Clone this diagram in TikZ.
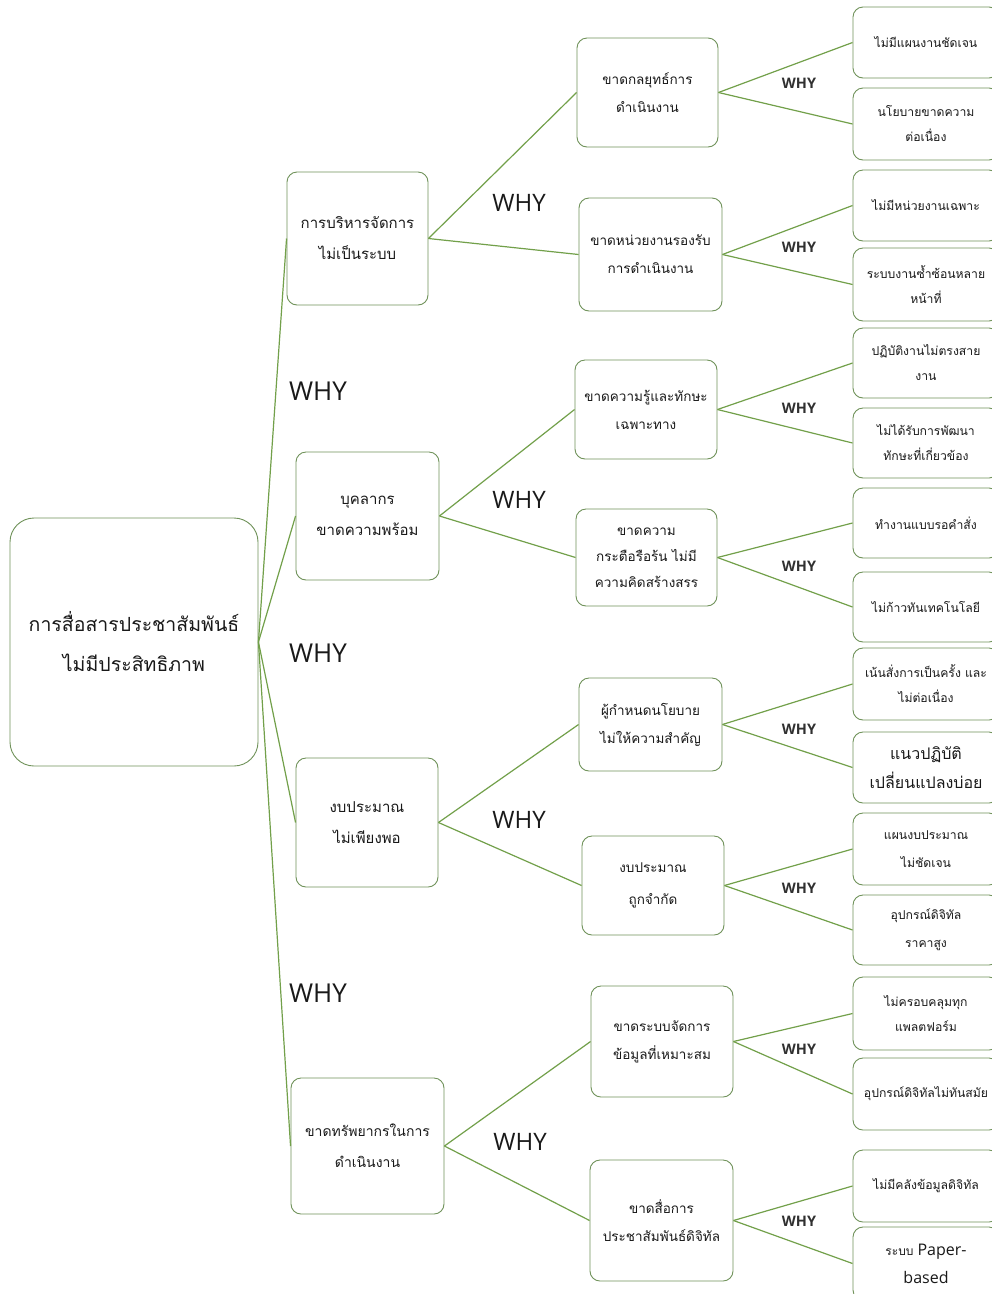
\documentclass[tikz,border=0pt]{standalone}
\usepackage{fontspec}
\setmainfont[Script=Thai]{Loma}
\newfontfamily\whyfont{Open Sans}
\definecolor{linegreen}{RGB}{114,160,74}
\definecolor{boxgreen}{RGB}{112,146,90}
\definecolor{txt}{RGB}{25,25,25}
\begin{document}
\begin{tikzpicture}[x=1pt,y=-1pt,
  conn/.style={draw=linegreen, line width=1.2pt},
  boxbase/.style={draw=boxgreen, line width=0.9pt, rounded corners=10pt, fill=white, align=center, inner sep=1pt, text=txt},
  rootbox/.style={boxbase, rounded corners=24pt, minimum width=248, minimum height=248, font=\fontsize{19.5}{40}\selectfont},
  lvlone/.style={boxbase, font=\fontsize{15}{31}\selectfont},
  lvltwo/.style={boxbase, minimum width=142, font=\fontsize{13.5}{28}\selectfont},
  leaf/.style={boxbase, minimum width=146, font=\fontsize{12.2}{25}\selectfont},
  whybig/.style={font=\whyfont\fontsize{26}{26}\selectfont, text=txt, inner sep=0pt},
  whymid/.style={font=\whyfont\fontsize{24}{24}\selectfont, text=txt, inner sep=0pt},
  whysmall/.style={font=\whyfont\bfseries\fontsize{14.5}{15}\selectfont, text=txt!90, inner sep=0pt}
]
\useasboundingbox (0,0) rectangle (992,1294);
\fill[white] (0,0) rectangle (992,1294);

% root
\node[rootbox] (root) at (134,642) {การสื่อสารประชาสัมพันธ์\\ไม่มีประสิทธิภาพ};

% level one
\node[lvlone, minimum width=141, minimum height=133] (p1) at (357.5,238.5) {การบริหารจัดการ\\ไม่เป็นระบบ};
\node[lvlone, minimum width=143, minimum height=128] (p2) at (367.5,516) {บุคลากร\\ขาดความพร้อม};
\node[lvlone, minimum width=142, minimum height=129] (p3) at (367,822.5) {งบประมาณ\\ไม่เพียงพอ};
\node[lvlone, minimum width=153, minimum height=136, font=\fontsize{14}{31}\selectfont] (p4) at (367.5,1146) {ขาดทรัพยากรในการ\\ดำเนินงาน};

% level two
\node[lvltwo, minimum width=141, minimum height=109] (a1) at (647.5,92.5) {ขาดกลยุทธ์การ\\ดำเนินงาน};
\node[lvltwo, minimum width=143, minimum height=113] (a2) at (650.5,254.5) {ขาดหน่วยงานรองรับ\\การดำเนินงาน};
\node[lvltwo, minimum width=142, minimum height=99] (b1) at (646,409.5) {ขาดความรู้และทักษะ\\เฉพาะทาง};
\node[lvltwo, minimum width=141, minimum height=97, font=\fontsize{13.5}{26}\selectfont] (b2) at (646.5,557.5) {ขาดความ\\กระตือรือร้น ไม่มี\\ความคิดสร้างสรร};
\node[lvltwo, minimum width=143, minimum height=93] (c1) at (650.5,724.5) {ผู้กำหนดนโยบาย\\ไม่ให้ความสำคัญ};
\node[lvltwo, minimum width=142, minimum height=99, font=\fontsize{13.5}{32}\selectfont] (c2) at (653,885.5) {งบประมาณ\\ถูกจำกัด};
\node[lvltwo, minimum width=142, minimum height=111] (d1) at (662,1041.5) {ขาดระบบจัดการ\\ข้อมูลที่เหมาะสม};
\node[lvltwo, minimum width=143, minimum height=121] (d2) at (661.5,1220.5) {\makebox[138pt][c]{ขาดสื่อการ}\\\makebox[138pt][c]{ประชาสัมพันธ์ดิจิทัล}};

% leaves
\node[leaf, minimum height=71] (l1) at (926,42.5) {ไม่มีแผนงานชัดเจน};
\node[leaf, minimum height=72] (l2) at (926,124) {นโยบายขาดความ\\ต่อเนื่อง};
\node[leaf, minimum height=71] (l3) at (926,205.5) {ไม่มีหน่วยงานเฉพาะ};
\node[leaf, minimum height=73] (l4) at (926,284.5) {\makebox[142pt][c]{ระบบงานซ้ำซ้อนหลาย}\\หน้าที่};
\node[leaf, minimum height=70] (l5) at (926,363) {ปฏิบัติงานไม่ตรงสาย\\งาน};
\node[leaf, minimum height=70] (l6) at (926,443) {ไม่ได้รับการพัฒนา\\ทักษะที่เกี่ยวข้อง};
\node[leaf, minimum height=70] (l7) at (926,523) {ทำงานแบบรอคำสั่ง};
\node[leaf, minimum height=70] (l8) at (926,607) {ไม่ก้าวทันเทคโนโลยี};
\node[leaf, minimum height=72] (l9) at (926,684) {\makebox[142pt][c]{เน้นสั่งการเป็นครั้ง และ}\\ไม่ต่อเนื่อง};
\node[leaf, minimum height=71, font=\fontsize{16}{29}\selectfont] (l10) at (926,767.5) {แนวปฏิบัติ\\\makebox[142pt][c]{เปลี่ยนแปลงบ่อย}};
\node[leaf, minimum height=72, font=\fontsize{12.2}{28}\selectfont] (l11) at (926,849) {แผนงบประมาณ\\ไม่ชัดเจน};
\node[leaf, minimum height=70, font=\fontsize{12.2}{28}\selectfont] (l12) at (926,930) {อุปกรณ์ดิจิทัล\\ราคาสูง};
\node[leaf, minimum height=73] (l13) at (926,1013.5) {ไม่ครอบคลุมทุก\\แพลตฟอร์ม};
\node[leaf, minimum height=72] (l14) at (926,1094) {\makebox[142pt][c]{อุปกรณ์ดิจิทัลไม่ทันสมัย}};
\node[leaf, minimum height=72] (l15) at (926,1186) {ไม่มีคลังข้อมูลดิจิทัล};
\node[leaf, minimum height=73, font=\fontsize{12}{28}\selectfont] (l16) at (926,1263.5) {ระบบ {\whyfont\fontsize{16}{28}\selectfont Paper-}\\{\whyfont\fontsize{16}{28}\selectfont based}};

% connectors root -> level one
\foreach \n in {p1,p2,p3,p4} \draw[conn] (root.east) -- (\n.west);
% level one -> level two
\draw[conn] (p1.east) -- (a1.west);
\draw[conn] (p1.east) -- (a2.west);
\draw[conn] (p2.east) -- (b1.west);
\draw[conn] (p2.east) -- (b2.west);
\draw[conn] (p3.east) -- (c1.west);
\draw[conn] (p3.east) -- (c2.west);
\draw[conn] (p4.east) -- (d1.west);
\draw[conn] (p4.east) -- (d2.west);
% level two -> leaves
\draw[conn] (a1.east) -- (l1.west);
\draw[conn] (a1.east) -- (l2.west);
\draw[conn] (a2.east) -- (l3.west);
\draw[conn] (a2.east) -- (l4.west);
\draw[conn] (b1.east) -- (l5.west);
\draw[conn] (b1.east) -- (l6.west);
\draw[conn] (b2.east) -- (l7.west);
\draw[conn] (b2.east) -- (l8.west);
\draw[conn] (c1.east) -- (l9.west);
\draw[conn] (c1.east) -- (l10.west);
\draw[conn] (c2.east) -- (l11.west);
\draw[conn] (c2.east) -- (l12.west);
\draw[conn] (d1.east) -- (l13.west);
\draw[conn] (d1.east) -- (l14.west);
\draw[conn] (d2.east) -- (l15.west);
\draw[conn] (d2.east) -- (l16.west);

% WHY labels
\node[whybig] (w1) at (318,391) {WHY};
\node[whybig] (w2) at (318,653) {WHY};
\node[whybig] (w3) at (318,993) {WHY};
\node[whymid] (w4) at (519,203) {WHY};
\node[whymid] (w5) at (519,500) {WHY};
\node[whymid] (w6) at (519,820) {WHY};
\node[whymid] (w7) at (520,1142) {WHY};
\node[whysmall] (w8) at (799,83) {WHY};
\node[whysmall] (w9) at (799,247) {WHY};
\node[whysmall] (w10) at (799,408) {WHY};
\node[whysmall] (w11) at (799,566) {WHY};
\node[whysmall] (w12) at (799,729) {WHY};
\node[whysmall] (w13) at (799,888) {WHY};
\node[whysmall] (w14) at (799,1049) {WHY};
\node[whysmall] (w15) at (799,1221) {WHY};
\end{tikzpicture}
\end{document}
